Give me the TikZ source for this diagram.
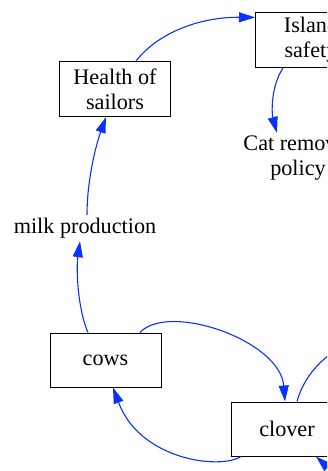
\documentclass[tikz,border=0pt]{standalone}
\usepackage{fontspec}
\setmainfont{Liberation Serif}
\usetikzlibrary{arrows.meta,calc}
\definecolor{edgeblue}{RGB}{10,50,255}
\begin{document}
\begin{tikzpicture}[x=1pt,y=-1pt,
  every node/.style={font=\fontsize{22.2}{25}\selectfont, align=center, inner sep=0pt},
  boxnode/.style={draw=black, line width=1pt, minimum width=111pt, minimum height=55pt},
  plainlabel/.style={minimum height=26pt},
  link/.style={draw=edgeblue, line width=1.1pt, -{Triangle[length=16pt,width=10pt]}},
  linknotip/.style={draw=edgeblue, line width=1.1pt}]
\clip (0,0) rectangle (327,471);
\useasboundingbox (0,0) rectangle (327,471);
\fill[white] (0,0) rectangle (327,471);

\node[boxnode] (hs) at (115,89) {Health of\\sailors};
\node[boxnode] (is) at (311,40) {Island\\safety};
\node[minimum height=50pt] (cat) at (298,158) {Cat removal\\policy};
\node[plainlabel] (milk) at (85,228) {milk production};
\node[boxnode, minimum height=54pt] (cows) at (105.5,360) {cows};
\node[boxnode, minimum height=54pt] (clover) at (287,429) {clover};
\coordinate (offR) at (350,342);
\coordinate (offB) at (342,484);

\draw[link] (hs.53) .. controls (155,36) and (195,17) .. (is.158);
\draw[link] (is.225) .. controls (270,88) and (272,115) .. ($(cat.north)+(-21,0)$);
\draw[link] ($(milk.north)+(2,0)$) .. controls (87,180) and (96,145) .. ($(hs.south)+(-9,0)$);
\draw[link] ($(cows.north)+(-17.5,0)$) .. controls (78,310) and (76,270) .. ($(milk.south)+(-5,0)$);
\draw[link] ($(cows.north)+(34.5,0)$) .. controls (168,302) and (280,340) .. ($(clover.north)+(-2,0)$);
\draw[link] ($(clover.south)+(-46,0)$) .. controls (220,470) and (140,460) .. ($(cows.south)+(7.5,0)$);
\draw[linknotip] ($(clover.north)+(10,0)$) .. controls (303,380) and (318,358) .. (offR);
\draw[link] (offB) .. controls (332,474) and (322,462) .. ($(clover.south)+(29,0)$);
\end{tikzpicture}
\end{document}
